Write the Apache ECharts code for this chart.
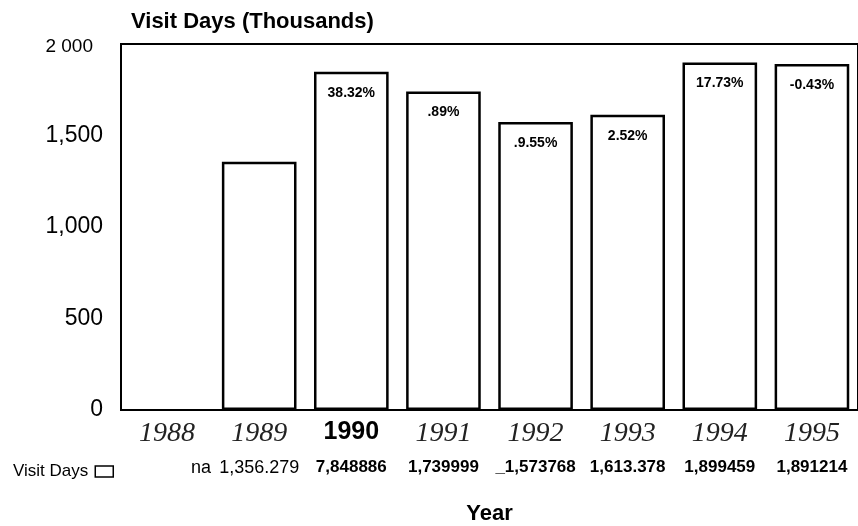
<!DOCTYPE html>
<html>
<head>
<meta charset="utf-8">
<script src="https://cdn.jsdelivr.net/npm/echarts@6/dist/echarts.min.js"></script>
<style>
  html, body { margin: 0; padding: 0; background: #fff; }
  #chart { width: 858px; height: 526px; }
</style>
</head>
<body>
<div id="chart"></div>
<script>
const years = ['1988', '1989', '1990', '1991', '1992', '1993', '1994', '1995']
// visit days, thousands (1988 not available)
const visitDays = [null, 1356.279, 1848.886, 1739.999, 1573.768, 1613.378, 1899.459, 1891.214]
// change labels printed inside the bars
const changeLabels = ['', '', '38.32%', '.89%', '.9.55%', '2.52%', '17.73%', '-0.43%']
// data table row under the axis
const tableLabels = ['na', '1,356.279', '7,848886', '1,739999', '_1,573768', '1,613.378', '1,899459', '1,891214']
const yTicks = [0, 500, 1000, 1500, 2000]
const yTickLabels = ['0', '500', '1,000', '1,500', '2 000']

const sans = "'Liberation Sans', Arial, sans-serif"
const chart = echarts.init(document.getElementById('chart'))

const option = {
  backgroundColor: '#fff',
  animation: false,
  title: {
    text: 'Visit Days (Thousands)',
    left: 126,
    top: 6,
    textStyle: { fontFamily: sans, fontSize: 22, fontWeight: 'bold', color: '#000' }
  },
  legend: {
    left: 8,
    top: 458,
    align: 'right',
    itemWidth: 18,
    itemHeight: 11,
    itemGap: 4,
    icon: 'rect',
    data: ['Visit Days'],
    textStyle: { fontFamily: sans, fontSize: 17, color: '#000', padding: [0, 2, 0, 0] },
    itemStyle: { color: '#fff', borderColor: '#000', borderWidth: 1.5 }
  },
  grid: {
    left: 121,
    right: 0,
    top: 44,
    bottom: 116,
    outerBoundsMode: 'none',
    containLabel: false,
    show: true,
    borderColor: '#000',
    borderWidth: 2,
    backgroundColor: 'transparent'
  },
  xAxis: [
    {
      type: 'category',
      data: years,
      axisLine: { show: false },
      axisTick: { show: false },
      name: 'Year',
      nameLocation: 'middle',
      nameGap: 93,
      nameTextStyle: { fontFamily: sans, fontSize: 22, fontWeight: 'bold', color: '#000' },
      axisLabel: {
        interval: 0,
        margin: 10,
        formatter: function (v) {
          return v === '1990' ? '{b|' + v + '}' : '{i|' + v + '}'
        },
        rich: {
          i: { fontFamily: "'Liberation Serif', 'Times New Roman', serif", fontStyle: 'italic', fontSize: 28, color: '#222' },
          b: { fontFamily: sans, fontWeight: 'bold', fontSize: 25, color: '#000' }
        }
      }
    },
    {
      type: 'category',
      data: years,
      position: 'bottom',
      offset: 49,
      axisLine: { show: false },
      axisTick: { show: false },
      axisLabel: {
        interval: 0,
        hideOverlap: false,
        margin: 0,
        formatter: function (v, i) {
          const t = tableLabels[i]
          if (i === 0) return '{na|' + t + '}'
          return i < 2 ? '{r|' + t + '}' : '{k|' + t + '}'
        },
        rich: {
          na: { fontFamily: sans, fontSize: 18, color: '#000', padding: [0, 0, 0, 68] },
          r: { fontFamily: sans, fontSize: 18, color: '#000' },
          k: { fontFamily: sans, fontSize: 17, fontWeight: 'bold', color: '#000' }
        }
      }
    }
  ],
  yAxis: {
    type: 'value',
    min: 0,
    max: 2000,
    interval: 500,
    axisLine: { show: false },
    axisTick: { show: false },
    splitLine: { show: false },
    axisLabel: {
      margin: 18,
      formatter: function (v) {
        const t = yTickLabels[yTicks.indexOf(v)]
        return v === 2000 ? '{s|' + t + '}' : '{n|' + t + '}'
      },
      rich: {
        n: { fontFamily: sans, fontSize: 23, color: '#000' },
        s: { fontFamily: sans, fontSize: 19, color: '#000', padding: [6, 10, 0, 0] }
      }
    }
  },
  series: [
    {
      name: 'Visit Days',
      type: 'bar',
      barWidth: '81%',
      data: visitDays,
      itemStyle: { color: '#fff', borderColor: '#000', borderWidth: 2.5 },
      label: {
        show: true,
        position: 'insideTop',
        distance: 14,
        formatter: function (p) { return changeLabels[p.dataIndex] },
        fontFamily: sans,
        fontSize: 14,
        fontWeight: 'bold',
        color: '#000'
      }
    }
  ]
}

chart.setOption(option)
</script>
</body>
</html>
